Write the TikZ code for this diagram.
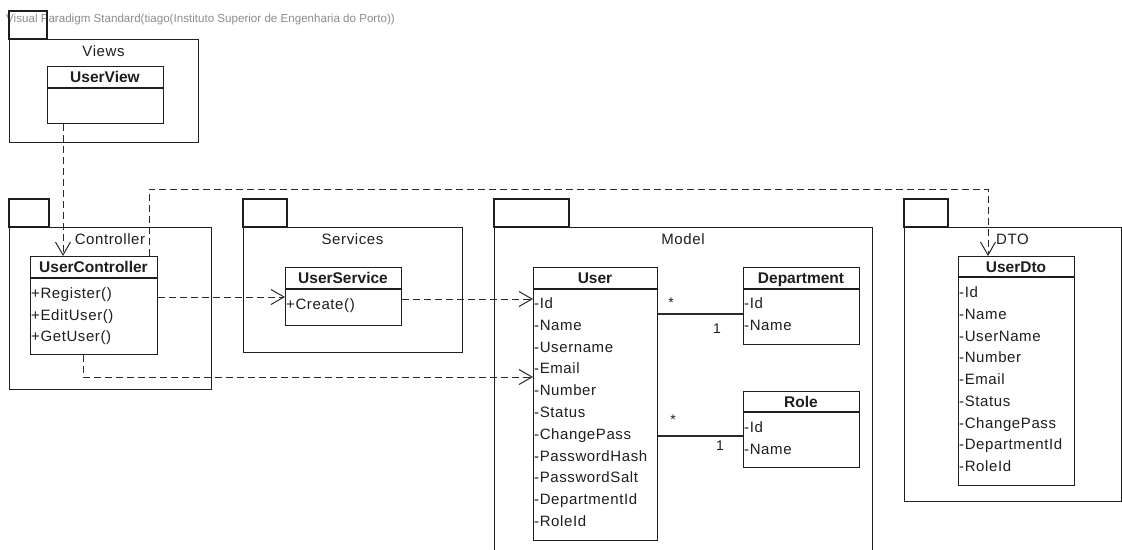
\documentclass[tikz,border=0pt]{standalone}
\usepackage{fontspec}
\setmainfont{Liberation Sans}
\newfontfamily\spacedsans[LetterSpace=4]{Liberation Sans}
\usetikzlibrary{arrows.meta,calc}
\definecolor{ink}{HTML}{1E1E1E}
\definecolor{wire}{HTML}{2A2A2A}
\definecolor{credit}{HTML}{8C8C8C}

% UML class box: name, x, y, width, height, header height, title
\newcommand\umlclass[7]{%
  \node[cls, minimum width=#4pt, minimum height=#5pt] (#1) at (#2,#3) {};
  \draw[boxline] (#2,#3+#6) -- (#2+#4,#3+#6);
  \node[ctitle] (#1-title) at (#2+#4/2,#3+#6/2) {#7};
}
% member list: prefix, x, first y, spacing, items
\newcommand\umlmembers[5]{%
  \foreach \t [count=\i] in {#5}
    \node[member] (#1-\i) at (#2+1,#3+\i*#4-#4) {\t};
}
% UML package: name, x, body top, width, height, tab width, label
\newcommand\umlpackage[7]{%
  \draw[boxline] (#2,#3) rectangle (#2+#6,#3-28);
  \node[pkg, minimum width=#4pt, minimum height=#5pt] (#1) at (#2,#3) {};
  \node[plabel] (#1-label) at (#2+#4/2,#3+12) {#7};
}

\begin{document}
\begin{tikzpicture}[x=1pt,y=-1pt,
  boxline/.style={draw=ink, line width=1.1pt},
  pkg/.style={boxline, inner sep=0, anchor=north west},
  cls/.style={boxline, inner sep=0, anchor=north west},
  ctitle/.style={font=\fontsize{15.5}{18}\selectfont\bfseries, text=ink, inner sep=0, text height=11pt, text depth=0pt},
  member/.style={font=\spacedsans\fontsize{15}{18}\selectfont, text=ink, inner sep=0, anchor=west, text height=11pt, text depth=0pt},
  plabel/.style={font=\spacedsans\fontsize{15}{18}\selectfont, text=ink, inner sep=0, text height=11pt, text depth=0pt},
  mult/.style={font=\fontsize{14}{16}\selectfont, text=ink, inner sep=0},
  dep/.style={draw=wire, line width=1pt, dash pattern=on 7pt off 4pt,
    -{Straight Barb[length=13pt,width=15pt,line width=1pt]}},
  assoc/.style={draw=wire, line width=1.1pt}]

\clip (0,0) rectangle (1122,549);
\fill[white] (0,0) rectangle (1122,549);

\node[anchor=west, inner sep=0, text=credit, font=\fontsize{11.6}{13}\selectfont] (credit) at (6,19)
  {Visual Paradigm Standard(tiago(Instituto Superior de Engenharia do Porto))};

% packages
\umlpackage{views}{9}{39}{189}{103}{38}{Views}
\umlpackage{controller}{9}{227}{202}{162}{40}{Controller}
\umlpackage{services}{243}{227}{219}{125}{44}{Services}
\umlpackage{model}{494}{227}{378}{340}{75}{Model}
\umlpackage{dto}{904}{227}{217}{274}{44}{DTO}

% classes
\umlclass{uview}{47}{66}{116}{57}{22}{UserView}

\umlclass{uctrl}{30}{256}{127}{98}{22}{UserController}
\umlmembers{uctrl}{30}{293}{21.5}{+Register(),+EditUser(),+GetUser()}

\umlclass{usvc}{285}{267}{116}{58}{22}{UserService}
\umlmembers{usvc}{285}{304}{21.5}{+Create()}

\umlclass{user}{533}{267}{124}{273}{22}{User}
\umlmembers{user}{533}{303}{21.8}{-Id,-Name,-Username,-Email,-Number,-Status,-ChangePass,-PasswordHash,-PasswordSalt,-DepartmentId,-RoleId}

\umlclass{dept}{743}{267}{116}{77}{22}{Department}
\umlmembers{dept}{743}{303}{21.8}{-Id,-Name}

\umlclass{role}{743}{391}{116}{76}{21}{Role}
\umlmembers{role}{743}{427}{21.8}{-Id,-Name}

\umlclass{udto}{958}{256}{116}{229}{21}{UserDto}
\umlmembers{udto}{958}{292}{21.75}{-Id,-Name,-UserName,-Number,-Email,-Status,-ChangePass,-DepartmentId,-RoleId}

% dependencies
\draw[dep] (uview.south -| 63,0) -- (uctrl.north -| 63,0);
\draw[dep] (uctrl.north -| 149,0) -- (149,189) -| (udto.north -| 988,0);
\draw[dep] (uctrl.east |- 0,297) -- (usvc.west |- 0,297);
\draw[dep] (usvc.east |- 0,299) -- (user.west |- 0,299);
\draw[dep] (uctrl.south -| 83,0) |- (user.west |- 0,377);

% associations
\draw[assoc] (user.east |- 0,314) -- (dept.west |- 0,314);
\node[mult] (m-ud-many) at (671,303) {*};
\node[mult] (m-ud-one) at (717,329) {1};
\draw[assoc] (user.east |- 0,436) -- (role.west |- 0,436);
\node[mult] (m-ur-many) at (673,420) {*};
\node[mult] (m-ur-one) at (720,446) {1};
\end{tikzpicture}
\end{document}
